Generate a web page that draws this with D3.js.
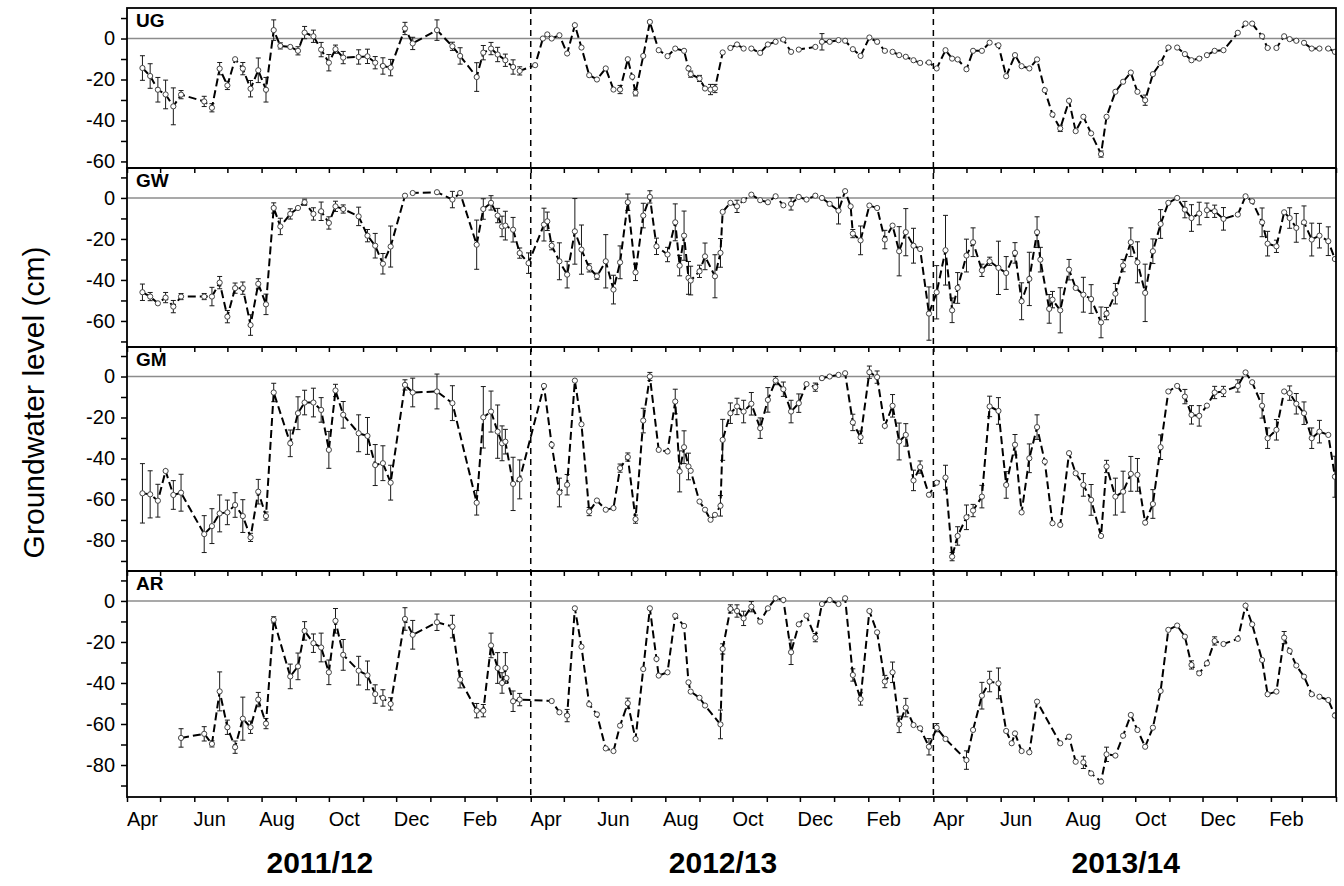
<!DOCTYPE html>
<html>
<head>
<meta charset="utf-8">
<script src="https://cdn.jsdelivr.net/npm/d3@7"></script>
<style>
  body { margin: 0; background: #fff; }
  svg text { font-family: "Liberation Sans", Arial, Helvetica, sans-serif; fill: #000; }
</style>
</head>
<body>
<svg id="chart" width="1344" height="886"></svg>
<script>
// Groundwater level per site: [sampling date, mean level (cm), error half-width (cm)]
const UG = [
  ["2011-04-15",-14.4,6],["2011-04-22",-18.3,6],["2011-04-29",-25,6],["2011-05-06",-27.3,7],
  ["2011-05-13",-33.1,9],["2011-05-20",-27.4,2],["2011-06-10",-30.7,2.5],["2011-06-17",-33.8,2],
  ["2011-06-24",-14.7,3],["2011-07-01",-22.9,2],["2011-07-08",-10.1,1],["2011-07-15",-14.7,3],
  ["2011-07-22",-24.5,4],["2011-07-29",-15.5,6],["2011-08-05",-25,6],["2011-08-12",4.1,5],
  ["2011-08-18",-3.6,1.5],["2011-08-27",-4.1,1],["2011-09-03",-6,2],["2011-09-09",2.9,3],
  ["2011-09-17",1.1,3],["2011-09-24",-5.4,3.5],["2011-10-01",-11.8,4],["2011-10-07",-5.2,2],
  ["2011-10-14",-9.3,3],["2011-10-28",-9,3.5],["2011-11-05",-8.7,3.5],["2011-11-12",-11.8,3],
  ["2011-11-19",-13.4,4],["2011-11-26",-14.2,4],["2011-12-09",4.9,3],["2011-12-16",-2.4,3],
  ["2012-01-07",4.1,5],["2012-01-21",-3.8,2],["2012-01-28",-8.5,4],["2012-02-12",-18.8,7],
  ["2012-02-18",-6.9,3.5],["2012-02-25",-4.9,3],["2012-03-02",-7.8,3.5],["2012-03-09",-10.6,3],
  ["2012-03-16",-13.9,3.5],["2012-03-22",-15.8,2],
  ["2012-04-05",-13,1],["2012-04-12",0,1],["2012-04-16",2,1],["2012-04-20",0,1],
  ["2012-04-27",1.6,1],["2012-05-04",-7.3,1],["2012-05-11",6.5,1],["2012-05-17",-4.4,1],
  ["2012-05-24",-17.9,1],["2012-05-31",-20,1],["2012-06-08",-14.6,1],["2012-06-15",-24.9,1],
  ["2012-06-21",-24.9,2],["2012-06-28",-10.1,1],["2012-07-02",-18.7,1],["2012-07-05",-26.5,1.5],
  ["2012-07-12",-8.5,1],["2012-07-18",8.1,1],["2012-07-26",-5.7,1],["2012-08-03",-8.6,1],
  ["2012-08-10",-4.9,1],["2012-08-18",-6,1],["2012-08-22",-14.6,1],["2012-08-24",-17.4,1.5],
  ["2012-09-01",-19.5,1.5],["2012-09-06",-24.4,1],["2012-09-11",-24.9,2.5],["2012-09-15",-24.4,2],
  ["2012-09-22",-6.8,1],["2012-09-29",-4.6,1],["2012-10-05",-2.9,1],["2012-10-11",-4.9,1],
  ["2012-10-18",-4.9,1],["2012-10-26",-7,1],["2012-11-02",-2.9,1],["2012-11-09",-1.6,1],
  ["2012-11-16",-0.5,1],["2012-11-23",-6.5,1],["2012-11-30",-5.4,1],["2012-12-15",-4.1,1],
  ["2012-12-21",-1.6,4],["2012-12-28",-1.6,1],["2013-01-05",-0.8,1],["2013-01-11",-1.1,1],
  ["2013-01-18",-5.2,1],["2013-01-25",-8.5,1],["2013-02-02",0.5,1],["2013-02-09",-1.6,1],
  ["2013-02-16",-6,1],["2013-02-23",-6.5,1],["2013-03-01",-8.1,1],["2013-03-07",-8.9,1],
  ["2013-03-14",-10.6,1],["2013-03-20",-11.9,1],["2013-03-28",-11.7,1],
  ["2013-04-04",-14.6,1],["2013-04-12",-5.7,1],["2013-04-18",-9.8,1],["2013-04-23",-10.2,1],
  ["2013-05-01",-15,1],["2013-05-07",-6,1],["2013-05-15",-6,1],["2013-05-22",-2,1],
  ["2013-05-30",-3.3,1],["2013-06-06",-18.4,1],["2013-06-14",-8.1,1],["2013-06-20",-13.5,1],
  ["2013-06-27",-14.6,1],["2013-07-04",-10.2,1],["2013-07-11",-25.2,1],["2013-07-18",-37.1,1],
  ["2013-07-25",-43.9,1.5],["2013-08-02",-30.4,1],["2013-08-08",-45.2,1],["2013-08-15",-38.2,1],
  ["2013-08-22",-46.3,1],["2013-08-31",-56.4,1.5],["2013-09-05",-38.2,1],["2013-09-13",-26,1],
  ["2013-09-20",-21.1,1],["2013-09-27",-16.6,1],["2013-10-03",-26,1],["2013-10-10",-30.1,2.5],
  ["2013-10-17",-17.4,1],["2013-10-24",-11.9,1],["2013-10-31",-4.4,1],["2013-11-08",-4.4,1],
  ["2013-11-15",-7.6,1],["2013-11-21",-10.6,1],["2013-11-28",-9.8,1],["2013-12-05",-8.1,1],
  ["2013-12-12",-6,1],["2013-12-20",-5.7,1],["2014-01-02",2.8,1],["2014-01-09",7.3,1],
  ["2014-01-15",7.3,1],["2014-01-24",1.1,1],["2014-01-29",-4.6,1],["2014-02-06",-4.6,1],
  ["2014-02-13",1.1,1],["2014-02-18",-0.3,1],["2014-02-24",-1.1,1],["2014-03-03",-2.1,1],
  ["2014-03-10",-4.9,1],["2014-03-17",-4.9,1],["2014-03-25",-4.9,1],["2014-03-31",-6.5,1]
];

const GW = [
  ["2011-04-15",-46,4],["2011-04-22",-48.1,2],["2011-04-29",-51.4,1],["2011-05-06",-48.6,2.5],
  ["2011-05-13",-53,3],["2011-05-20",-48.1,1.5],["2011-06-10",-48.1,1.5],["2011-06-17",-48.1,4.5],
  ["2011-06-24",-41.3,3],["2011-07-01",-57.9,3],["2011-07-08",-44,2.5],["2011-07-15",-44,3],
  ["2011-07-22",-62,5],["2011-07-29",-41.9,2.5],["2011-08-05",-51.9,5],["2011-08-12",-4.9,2.5],
  ["2011-08-18",-13.9,4],["2011-08-27",-7.8,2.5],["2011-09-03",-4.9,1],["2011-09-09",-2.1,1.5],
  ["2011-09-17",-7.8,3],["2011-09-24",-6.5,4.5],["2011-10-01",-12.2,3],["2011-10-07",-4.1,2.5],
  ["2011-10-14",-5.4,2],["2011-10-28",-9,4.5],["2011-11-05",-18.4,3],["2011-11-12",-23.3,6],
  ["2011-11-19",-32.1,5],["2011-11-26",-23.7,10],["2011-12-09",1.1,1],["2011-12-16",2.4,1],
  ["2012-01-07",2.8,1],["2012-01-21",-0.8,4],["2012-01-28",2.4,1],["2012-02-12",-22.8,12],
  ["2012-02-18",-5.4,5],["2012-02-25",-2.4,3.5],["2012-03-02",-8.6,3.5],["2012-03-06",-13.9,5],
  ["2012-03-09",-13.5,7],["2012-03-16",-15.5,6],["2012-03-22",-26.9,2.5],["2012-03-30",-31.8,5],
  ["2012-04-13",-13,8],["2012-04-16",-11.4,4.5],["2012-04-20",-23.3,2],["2012-04-27",-30.9,9],
  ["2012-05-04",-37.4,6.5],["2012-05-11",-16.3,16],["2012-05-17",-25.2,12],["2012-05-24",-34.1,2],
  ["2012-05-31",-38.2,1.5],["2012-06-08",-30.9,13],["2012-06-15",-44.7,7],["2012-06-21",-31.4,8],
  ["2012-06-28",-2.1,4],["2012-07-05",-36.3,4],["2012-07-12",-8.6,6],["2012-07-18",0.5,3],
  ["2012-07-24",-23.6,4],["2012-08-03",-27.6,3.5],["2012-08-10",-11.9,9],["2012-08-14",-33,5],
  ["2012-08-18",-18.4,12],["2012-08-22",-39,8],["2012-08-24",-40.3,7],["2012-09-01",-35.8,3],
  ["2012-09-06",-28.5,6.5],["2012-09-15",-38.2,10.5],["2012-09-20",-26.8,7],["2012-09-22",-6.8,1],
  ["2012-09-29",-2.4,1],["2012-10-05",-4.1,3],["2012-10-11",-1.1,1],["2012-10-18",1.6,1],
  ["2012-10-26",-1.1,1],["2012-11-02",-2.1,1],["2012-11-09",0.8,1],["2012-11-16",-3.6,1],
  ["2012-11-23",-2.9,3],["2012-11-30",0.5,1],["2012-12-07",-0.8,1],["2012-12-15",1.1,1],
  ["2012-12-21",0,1],["2012-12-28",-2.9,1],["2013-01-05",-6.2,6.5],["2013-01-11",3.3,1],
  ["2013-01-16",-4.1,1],["2013-01-18",-17.4,2],["2013-01-25",-20.7,7],["2013-02-02",-3.7,1],
  ["2013-02-09",-4.9,1],["2013-02-16",-20.3,4.5],["2013-02-23",-13.5,1],["2013-03-01",-26,12],
  ["2013-03-07",-16.7,11.5],["2013-03-14",-23.3,8.5],["2013-03-20",-24.9,1],["2013-03-28",-56.4,13],
  ["2013-04-04",-46,13],["2013-04-12",-25.5,17],["2013-04-18",-54.8,6],["2013-04-23",-43.9,7.5],
  ["2013-05-01",-28.1,8],["2013-05-07",-21.6,7],["2013-05-15",-35.3,3],["2013-05-22",-30.9,2],
  ["2013-05-30",-34.1,13],["2013-06-06",-36.6,8],["2013-06-14",-26.8,5],["2013-06-20",-50.4,9],
  ["2013-06-27",-39.5,13],["2013-07-04",-16.7,7.5],["2013-07-07",-30.1,6],["2013-07-15",-54.1,7],
  ["2013-07-18",-49.6,4],["2013-07-25",-54.8,11],["2013-08-02",-35,5],["2013-08-08",-43.9,1],
  ["2013-08-15",-47.2,8.5],["2013-08-22",-49.3,7],["2013-08-31",-60.7,7.5],["2013-09-05",-56.4,3],
  ["2013-09-13",-46.7,5],["2013-09-20",-33,3],["2013-09-27",-21.6,7],["2013-10-03",-31.4,10],
  ["2013-10-10",-46.3,14],["2013-10-17",-26,6],["2013-10-24",-12.7,7],["2013-10-31",-2.4,1],
  ["2013-11-08",0,1],["2013-11-15",-5.7,4],["2013-11-21",-9.8,6.5],["2013-11-28",-7.6,5.5],
  ["2013-12-05",-6,3.5],["2013-12-12",-6.5,3],["2013-12-20",-10.2,5.5],["2014-01-02",-8.1,1],
  ["2014-01-09",0.8,1],["2014-01-15",-1.6,1],["2014-01-24",-11.9,7],["2014-01-29",-22.3,6],
  ["2014-02-06",-23.6,3],["2014-02-13",-7,1],["2014-02-18",-9.8,5],["2014-02-24",-14.6,7],
  ["2014-03-03",-11.9,8],["2014-03-10",-20.3,8],["2014-03-17",-18.4,6],["2014-03-25",-21.1,7],
  ["2014-03-31",-29.8,1]
];

const GM = [
  ["2011-04-15",-57,14.5],["2011-04-22",-57.5,11.5],["2011-04-29",-60.6,8],["2011-05-06",-46.1,1],
  ["2011-05-13",-57.8,7],["2011-05-20",-56.7,9],["2011-06-10",-76.9,9],["2011-06-17",-73,8.5],
  ["2011-06-24",-66.8,9],["2011-07-01",-66.3,6],["2011-07-08",-62.7,6],["2011-07-15",-68.1,8],
  ["2011-07-22",-78.5,2],["2011-07-29",-56.2,6],["2011-08-05",-68.1,2],["2011-08-12",-7.8,4.5],
  ["2011-08-27",-32.6,6.5],["2011-09-03",-17.9,8],["2011-09-09",-12.7,6],["2011-09-17",-12.7,7],
  ["2011-09-24",-16.3,6],["2011-10-01",-35.8,9],["2011-10-07",-6.8,3],["2011-10-14",-18.7,6.5],
  ["2011-10-28",-27.7,9],["2011-11-05",-29,9],["2011-11-12",-43.2,10],["2011-11-19",-42.3,8.5],
  ["2011-11-26",-51.8,8.5],["2011-12-09",-4.1,2.5],["2011-12-16",-7.8,7],["2012-01-07",-7.3,8.5],
  ["2012-01-21",-13,8.5],["2012-02-12",-61.6,6],["2012-02-18",-19.9,15],["2012-02-25",-17.1,10],
  ["2012-03-02",-26.9,13],["2012-03-06",-32.6,8.5],["2012-03-09",-31.8,6],["2012-03-16",-52.4,13],
  ["2012-03-22",-50.2,9.5],
  ["2012-04-13",-4.6,1],["2012-04-20",-33.3,1],["2012-04-27",-56.6,7],["2012-05-04",-52.8,5],
  ["2012-05-11",-2,1],["2012-05-17",-23.3,1],["2012-05-24",-65.9,2],["2012-05-31",-60.5,1],
  ["2012-06-08",-65,1],["2012-06-15",-64.2,1],["2012-06-21",-44.7,2],["2012-06-28",-39.3,2],
  ["2012-07-05",-69.6,2],["2012-07-12",-21.5,6],["2012-07-18",0,2],["2012-07-26",-35.8,1],
  ["2012-08-03",-36.6,1],["2012-08-10",-12.2,6],["2012-08-14",-46.3,10],["2012-08-18",-34.5,8],
  ["2012-08-22",-43.9,6.5],["2012-08-24",-46,1],["2012-09-01",-61,1],["2012-09-06",-65,1],
  ["2012-09-11",-69.9,1],["2012-09-15",-67.5,1],["2012-09-20",-63.1,5],["2012-09-22",-30.9,10],
  ["2012-09-29",-17.9,5],["2012-10-05",-14.6,4],["2012-10-11",-17.1,5.5],["2012-10-18",-13.3,5.5],
  ["2012-10-26",-25.2,5],["2012-11-02",-11.4,6],["2012-11-09",-2,2],["2012-11-16",-6.2,3.5],
  ["2012-11-23",-17.1,5.5],["2012-11-30",-13,4.5],["2012-12-07",-3.7,1],["2012-12-15",-5.2,2],
  ["2012-12-21",-0.8,1],["2012-12-28",0,1],["2013-01-05",0.8,1],["2013-01-11",1.6,1],
  ["2013-01-18",-22.4,4],["2013-01-25",-29.6,3],["2013-02-02",2.1,3],["2013-02-09",-0.3,3],
  ["2013-02-16",-24.1,1],["2013-02-23",-14.3,5.5],["2013-03-01",-31.7,9],["2013-03-07",-28.5,5.5],
  ["2013-03-14",-50.7,5],["2013-03-20",-44.2,3],["2013-03-28",-57.7,1],
  ["2013-04-04",-51.8,1],["2013-04-12",-49.3,6],["2013-04-18",-87.9,2],["2013-04-23",-77.8,4.5],
  ["2013-05-01",-68.7,6],["2013-05-07",-65.4,3],["2013-05-15",-58.6,5.5],["2013-05-22",-14.6,5],
  ["2013-05-30",-16.8,6.5],["2013-06-06",-52.9,6.5],["2013-06-14",-33.3,5],["2013-06-20",-66.3,1],
  ["2013-06-27",-39.9,7],["2013-07-04",-24.7,6],["2013-07-11",-41.5,1],["2013-07-18",-71.6,1],
  ["2013-07-25",-72.4,1],["2013-08-02",-37.4,1],["2013-08-08",-47.2,1],["2013-08-15",-52.9,5.5],
  ["2013-08-22",-60.2,7.5],["2013-08-31",-77.8,1],["2013-09-05",-43.9,3],["2013-09-13",-58.6,9],
  ["2013-09-20",-56.2,10],["2013-09-27",-47.5,8.5],["2013-10-03",-48,8],["2013-10-10",-71.3,1],
  ["2013-10-17",-62.2,7],["2013-10-24",-34.5,6],["2013-10-31",-7.3,1],["2013-11-08",-4.6,1],
  ["2013-11-15",-9.8,3.5],["2013-11-21",-18.7,4.5],["2013-11-28",-19.2,5],["2013-12-05",-14.2,1],
  ["2013-12-12",-7.8,3],["2013-12-20",-7.3,2.5],["2014-01-02",-4.6,3],["2014-01-09",2,1],
  ["2014-01-15",-2.8,1],["2014-01-24",-14.3,6],["2014-01-29",-30.1,5],["2014-02-06",-26,5],
  ["2014-02-13",-7.3,1],["2014-02-18",-8.1,3.5],["2014-02-24",-13.3,5],["2014-03-03",-17.9,5.5],
  ["2014-03-10",-30.1,5],["2014-03-17",-26.9,5.5],["2014-03-25",-28.5,1],["2014-03-31",-48.9,10]
];

const AR = [
  ["2011-05-20",-66.8,4.5],["2011-06-10",-64.8,3.5],["2011-06-17",-69.7,1.5],["2011-06-24",-44.1,9.5],
  ["2011-07-01",-61.6,3.5],["2011-07-08",-71.3,3],["2011-07-15",-57.4,10.5],["2011-07-22",-61.6,3],
  ["2011-07-29",-48.1,3.5],["2011-08-05",-59.8,2.5],["2011-08-12",-9.2,1.5],["2011-08-27",-36.8,6],
  ["2011-09-03",-31.9,6.5],["2011-09-09",-14.6,4.5],["2011-09-17",-20.6,4.5],["2011-09-24",-22.7,7],
  ["2011-10-01",-34.8,6],["2011-10-07",-9.7,6],["2011-10-14",-26.3,7.5],["2011-10-28",-34,7],
  ["2011-11-05",-36.3,7],["2011-11-12",-45.4,4.5],["2011-11-19",-47.3,4],["2011-11-26",-50.2,3],
  ["2011-12-09",-8.8,5.5],["2011-12-16",-16.5,7],["2012-01-07",-10.4,4],["2012-01-21",-12.5,5.5],
  ["2012-01-28",-38.4,4],["2012-02-12",-53.5,3.5],["2012-02-18",-53.5,3],["2012-02-25",-21.7,6],
  ["2012-03-02",-32.7,7.5],["2012-03-06",-40,5],["2012-03-09",-32.7,7.5],["2012-03-10",-37.6,1],
  ["2012-03-16",-48.9,5],["2012-03-22",-48.1,3],
  ["2012-04-20",-48.8,1],["2012-04-27",-54.3,1],["2012-05-04",-55.9,3],["2012-05-11",-3.6,1],
  ["2012-05-17",-22.3,1],["2012-05-24",-50.4,1],["2012-05-31",-55.3,1],["2012-06-08",-71.9,1],
  ["2012-06-15",-73.2,1],["2012-06-21",-60.8,1],["2012-06-28",-49.9,2.5],["2012-07-05",-67.3,1],
  ["2012-07-12",-33.2,1],["2012-07-18",-3.6,1],["2012-07-24",-28.3,1],["2012-07-26",-36.4,1],
  ["2012-08-03",-34.8,1],["2012-08-10",-7.2,1],["2012-08-18",-12.2,1],["2012-08-22",-39.7,1],
  ["2012-08-24",-44.2,1],["2012-09-01",-47.2,1],["2012-09-06",-51,1],["2012-09-20",-60.2,7],
  ["2012-09-22",-23.4,2.5],["2012-09-29",-3.9,2],["2012-10-05",-4.9,3],["2012-10-11",-8.5,3.5],
  ["2012-10-18",-2.8,2.5],["2012-10-26",-10.1,1],["2012-11-02",-3.6,1],["2012-11-09",1.3,1],
  ["2012-11-16",0.5,1],["2012-11-23",-25,6],["2012-11-30",-11.4,1],["2012-12-07",-7.2,1],
  ["2012-12-15",-17.9,2],["2012-12-21",-1.5,1],["2012-12-28",0.5,1],["2013-01-05",-1.5,1],
  ["2013-01-11",1.3,1],["2013-01-18",-36.1,3],["2013-01-25",-47.8,3],["2013-02-02",-4.9,1],
  ["2013-02-09",-15.3,1],["2013-02-16",-39.3,3],["2013-02-23",-34.8,5],["2013-03-01",-60.2,4],
  ["2013-03-07",-52,4.5],["2013-03-14",-60.5,1],["2013-03-20",-62.1,1],["2013-03-28",-71.1,4],
  ["2013-04-04",-61.8,2],["2013-04-12",-67.3,1],["2013-05-01",-77.6,4.5],["2013-05-07",-62.9,1],
  ["2013-05-15",-46.2,6.5],["2013-05-22",-39.3,5],["2013-05-30",-40.2,7.5],["2013-06-06",-63.4,1],
  ["2013-06-11",-69.4,1],["2013-06-14",-64.6,1],["2013-06-20",-73.2,1],["2013-06-27",-73.8,1],
  ["2013-07-04",-49.1,1],["2013-07-25",-69.4,1],["2013-08-02",-66.2,1],["2013-08-08",-78.4,1],
  ["2013-08-15",-78.7,3],["2013-08-22",-84.1,1],["2013-08-31",-88.1,1],["2013-09-05",-74.8,3.5],
  ["2013-09-13",-75.4,1],["2013-09-20",-65.7,1],["2013-09-27",-55.6,1],["2013-10-03",-62.9,1],
  ["2013-10-10",-71.1,1],["2013-10-17",-61.8,1],["2013-10-24",-43.9,1],["2013-10-31",-14.1,1],
  ["2013-11-08",-12,1],["2013-11-15",-17.4,1],["2013-11-21",-31.2,2],["2013-11-28",-35.3,1],
  ["2013-12-05",-30.4,1],["2013-12-12",-19.5,2],["2013-12-20",-21,1],["2014-01-02",-18.5,1],
  ["2014-01-09",-2.3,1],["2014-01-15",-11.4,1],["2014-01-24",-28.8,1],["2014-01-29",-45.5,1],
  ["2014-02-06",-44.2,1],["2014-02-13",-17.9,3],["2014-02-18",-24.4,1],["2014-02-24",-31.5,1],
  ["2014-03-03",-36.9,1],["2014-03-10",-45.5,1],["2014-03-17",-46.7,1],["2014-03-25",-48.3,1],
  ["2014-03-31",-55.9,1]
];

const siteNames = ["UG", "GW", "GM", "AR"];
const siteSeries = [UG, GW, GM, AR];
// y-axis extent (cm) of each site panel
const siteYMin = [-63.2, -72.7, -94.9, -95.6];
const siteYMax = [14.9, 14.6, 14.4, 14.6];
const labelledMonths = ["Apr", "Jun", "Aug", "Oct", "Dec", "Feb"];
const seasons = ["2011/12", "2012/13", "2013/14"];
const seasonStarts = ["2011-04-01", "2012-04-01", "2013-04-01", "2014-04-01"];
const yTitle = "Groundwater level (cm)";

// ---------- layout ----------
const svg = d3.select("#chart");
const plotLeft = 127, plotRight = 1336;
const panelEdges = [8, 168, 347, 571, 797];
const parse = d3.timeParse("%Y-%m-%d");
const starts = seasonStarts.map(parse);

const x = d3.scaleTime()
  .domain([starts[0], starts[starts.length - 1]])
  .range([plotLeft, plotRight]);

svg.append("rect").attr("width", 1344).attr("height", 886).attr("fill", "#fff");

const line = d3.line();

siteNames.forEach((name, i) => {
  const top = panelEdges[i], bottom = panelEdges[i + 1];
  const y = d3.scaleLinear().domain([siteYMin[i], siteYMax[i]]).range([bottom, top]);
  const pts = siteSeries[i].map(d => ({ t: parse(d[0]), v: d[1], e: d[2] }));

  const clipId = "clip-" + name;
  svg.append("clipPath").attr("id", clipId)
    .append("rect")
    .attr("x", plotLeft).attr("y", top)
    .attr("width", plotRight - plotLeft).attr("height", bottom - top);

  const g = svg.append("g").attr("clip-path", `url(#${clipId})`);

  // zero reference line
  g.append("line")
    .attr("x1", plotLeft).attr("x2", plotRight)
    .attr("y1", y(0)).attr("y2", y(0))
    .attr("stroke", "#8c8c8c").attr("stroke-width", 1.6);

  // error bars
  const eb = g.append("g").attr("stroke", "#1a1a1a").attr("stroke-width", 1);
  pts.filter(d => d.e > 1.2).forEach(d => {
    const cx = x(d.t);
    eb.append("line").attr("x1", cx).attr("x2", cx).attr("y1", y(d.v - d.e)).attr("y2", y(d.v + d.e));
    eb.append("line").attr("x1", cx - 2.5).attr("x2", cx + 2.5).attr("y1", y(d.v - d.e)).attr("y2", y(d.v - d.e));
    eb.append("line").attr("x1", cx - 2.5).attr("x2", cx + 2.5).attr("y1", y(d.v + d.e)).attr("y2", y(d.v + d.e));
  });

  // dashed connecting line
  g.append("path")
    .attr("d", line(pts.map(d => [x(d.t), y(d.v)])))
    .attr("fill", "none")
    .attr("stroke", "#000")
    .attr("stroke-width", 2)
    .attr("stroke-dasharray", "8,4");

  // open circle markers
  g.append("g").selectAll("circle").data(pts).join("circle")
    .attr("cx", d => x(d.t)).attr("cy", d => y(d.v)).attr("r", 2.6)
    .attr("fill", "#fff").attr("stroke", "#444").attr("stroke-width", 1);

  // panel frame
  svg.append("rect")
    .attr("x", plotLeft).attr("y", top)
    .attr("width", plotRight - plotLeft).attr("height", bottom - top)
    .attr("fill", "none").attr("stroke", "#000").attr("stroke-width", 1.8);

  // y axis: ticks every 10, labels every 20
  const tv = d3.range(Math.ceil(siteYMin[i] / 10) * 10, siteYMax[i], 10);
  const yAxis = d3.axisLeft(y).tickValues(tv).tickSize(6).tickPadding(6)
    .tickFormat(d => (d % 20 === 0 ? String(d) : ""));
  const ya = svg.append("g").attr("transform", `translate(${plotLeft},0)`).call(yAxis);
  ya.select(".domain").remove();
  ya.selectAll(".tick line").attr("stroke", "#000").attr("stroke-width", 1.5);
  ya.selectAll(".tick text").attr("font-size", 20).attr("font-family", "Liberation Sans, Arial, sans-serif");

  // monthly ticks along panel bottom
  const xAxis = d3.axisBottom(x).ticks(d3.timeMonth.every(1)).tickSize(5).tickFormat("");
  const xa = svg.append("g").attr("transform", `translate(0,${bottom})`).call(xAxis);
  xa.select(".domain").remove();
  xa.selectAll(".tick line").attr("stroke", "#000").attr("stroke-width", 1.5);

  // site label
  svg.append("text")
    .attr("x", plotLeft + 9).attr("y", top + 19)
    .attr("font-size", 19).attr("font-weight", "bold")
    .text(name);
});

// season separators
svg.append("g").selectAll("line").data(starts.slice(1, -1)).join("line")
  .attr("x1", d => x(d)).attr("x2", d => x(d))
  .attr("y1", panelEdges[0]).attr("y2", panelEdges[panelEdges.length - 1])
  .attr("stroke", "#000").attr("stroke-width", 1.5).attr("stroke-dasharray", "6,5");

// month labels at mid-month
const fmtMonth = d3.timeFormat("%b");
const months = d3.timeMonth.range(starts[0], starts[starts.length - 1])
  .filter(d => labelledMonths.includes(fmtMonth(d)));
svg.append("g").selectAll("text").data(months).join("text")
  .attr("x", d => x(new Date(d.getFullYear(), d.getMonth(), 15)))
  .attr("y", 826)
  .attr("text-anchor", "middle")
  .attr("font-size", 20)
  .text(d => fmtMonth(d));

// season labels
svg.append("g").selectAll("text").data(seasons).join("text")
  .attr("x", (d, k) => (x(starts[k]) + x(starts[k + 1])) / 2 - 9)
  .attr("y", 873)
  .attr("text-anchor", "middle")
  .attr("font-size", 30).attr("font-weight", "bold")
  .text(d => d);

// y axis title
svg.append("text")
  .attr("transform", `translate(44,${(panelEdges[0] + panelEdges[4]) / 2}) rotate(-90)`)
  .attr("text-anchor", "middle")
  .attr("font-size", 30)
  .text(yTitle);
</script>
</body>
</html>
